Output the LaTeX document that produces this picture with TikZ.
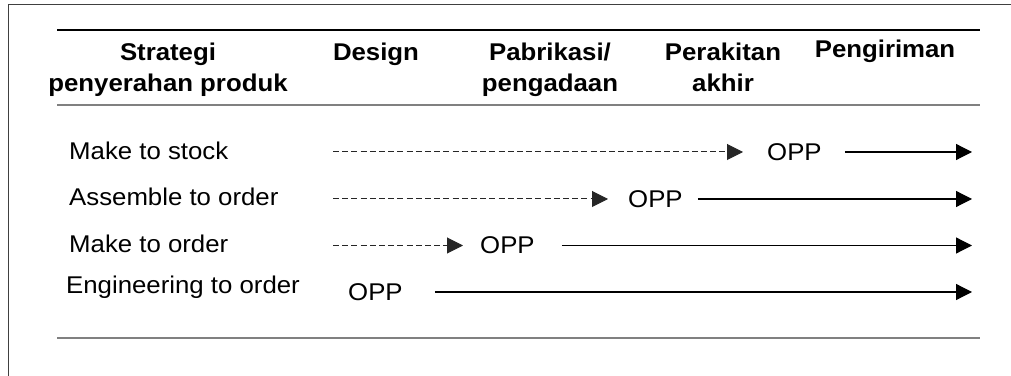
\documentclass[tikz,border=0pt]{standalone}
\usepackage{fontspec}
\setmainfont{Liberation Sans}[FakeStretch=1.065]
\usetikzlibrary{arrows.meta}

\begin{document}
\begin{tikzpicture}[>={Triangle[length=16bp,width=16bp]},line join=bevel,
  font=\fontsize{24.3}{31}\selectfont,
  hdr/.style={anchor=north,inner sep=0pt,align=center,font=\fontsize{24.3}{31}\selectfont\bfseries},
  lbl/.style={anchor=base west,inner sep=0pt},
  opp/.style={anchor=west,inner sep=0pt},
  fcst/.style={draw=black!85,line width=1bp,dash pattern=on 6bp off 3.2bp,->},
  ord/.style={draw=black,line width=1.2bp,->},
  rule/.style={draw=black!50,line width=2bp},
]
\useasboundingbox (0bp,0bp) rectangle (1011bp,376bp);
%% frame and rules
\draw [black!75,line width=1bp] (8bp,0bp) -- (8bp,371bp) -- (1011bp,371bp);
\draw [black,line width=1.2bp] (57bp,346bp) -- (980bp,346bp);
\draw [rule] (57bp,271bp) -- (980bp,271bp);
\draw [rule] (57bp,38bp) -- (980bp,38bp);
%% header
\node (hdr_strat) at (168bp,333bp) [hdr] {Strategi\\penyerahan produk};
  \node (hdr_design) at (376bp,333bp) [hdr] {Design};
  \node (hdr_fab) at (550bp,333bp) [hdr] {Pabrikasi/\\pengadaan};
  \node (hdr_asm) at (723bp,333bp) [hdr] {Perakitan\\akhir};
  \node (hdr_ship) at (885bp,336bp) [hdr] {Pengiriman};
%% rows
\node (lbl_mts) at (69bp,216bp) [lbl] {Make to stock};
  \node (lbl_ato) at (69bp,170bp) [lbl] {Assemble to order};
  \node (lbl_mto) at (69bp,123bp) [lbl] {Make to order};
  \node (lbl_eto) at (66bp,82bp) [lbl] {Engineering to order};
  \node (opp_mts) at (767bp,224bp) [opp] {OPP};
  \node (opp_ato) at (628bp,177bp) [opp] {OPP};
  \node (opp_mto) at (480bp,130.5bp) [opp] {OPP};
  \node (opp_eto) at (348bp,84bp) [opp] {OPP};
  \coordinate (mts_a) at (333bp,224bp);
  \coordinate (ato_a) at (333bp,177bp);
  \coordinate (mto_a) at (333bp,130.5bp);
  \coordinate (mts_b) at (972bp,224bp);
  \coordinate (ato_b) at (972bp,177bp);
  \coordinate (mto_b) at (972bp,130.5bp);
  \coordinate (eto_b) at (972bp,84bp);
%
  \draw [fcst,shorten >=24bp] (mts_a) -- (opp_mts);
  \draw [fcst,shorten >=20bp] (ato_a) -- (opp_ato);
  \draw [fcst,shorten >=17bp] (mto_a) -- (opp_mto);
  \draw [ord,shorten <=23bp] (opp_mts) -- (mts_b);
  \draw [ord,shorten <=15bp] (opp_ato) -- (ato_b);
  \draw [ord,shorten <=27bp] (opp_mto) -- (mto_b);
  \draw [ord,shorten <=32bp] (opp_eto) -- (eto_b);
%
\end{tikzpicture}
\end{document}
